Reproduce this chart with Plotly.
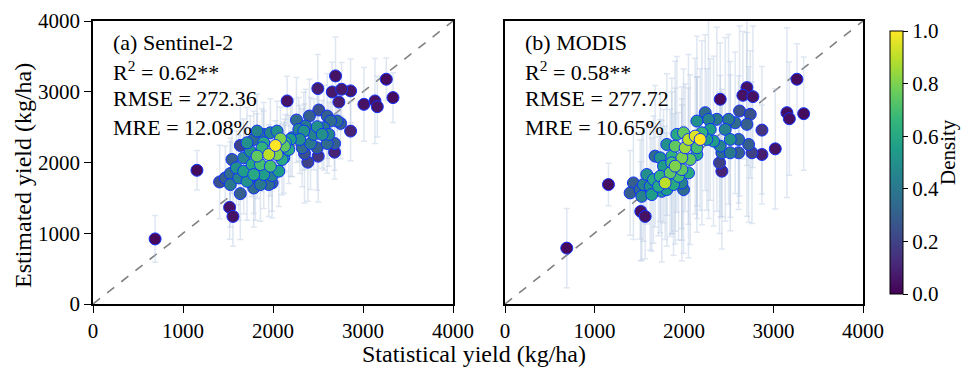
import plotly.graph_objects as go

# ---------------- Panel (a) Sentinel-2 ----------------
a_stat = [690, 1155, 2695, 2498, 2658, 2762, 2862, 2732, 2157, 3010, 3133, 3159, 3259, 3333,
          2862, 2684, 2502, 2387, 2350, 2405, 2509, 2602, 2714, 2751, 2261, 2602, 2684, 2621,
          2491, 2342, 2417, 2298, 2194, 2138, 2127, 2027, 2083, 1953, 2045, 2101, 1823, 1878,
          1897, 1786, 1637, 1748, 1674, 1544, 1593, 1674, 1767, 1860, 1971, 2064, 1786, 1897,
          1990, 1860, 1952, 1990, 1804, 1711, 1619, 1526, 1470, 1407, 1526, 1637, 1786, 1518,
          1555, 2175, 2120, 2213, 2287, 2361, 2565, 2640, 2546, 2454, 2324, 2491, 1823, 1897,
          1711, 1971, 2045]
a_est = [920, 1890, 3224, 3045, 2997, 3035, 3012, 2855, 2870, 2822, 2870, 2789, 3177, 2917,
         2444, 2146, 2090, 2004, 2127, 2657, 2742, 2657, 2586, 2553, 2600, 2269, 2269, 2397,
         2506, 2444, 2269, 2326, 2326, 2279, 2231, 2241, 2335, 2113, 2113, 2042, 2090, 2208,
         2397, 2326, 2241, 2160, 2066, 2042, 1924, 1877, 1971, 1971, 1948, 1877, 1830, 1830,
         1815, 1688, 1688, 1711, 1664, 1735, 1782, 1844, 1782, 1725, 1688, 1560, 1640, 1366,
         1238, 2184, 2066, 2350, 2468, 2515, 2491, 2586, 2397, 2397, 2208, 2208, 2444, 2279,
         2279, 2420, 2444]
a_dens = [0.02, 0.03, 0.05, 0.08, 0.07, 0.07, 0.06, 0.08, 0.05, 0.05, 0.05, 0.05, 0.03, 0.03,
          0.10, 0.10, 0.15, 0.20, 0.25, 0.30, 0.25, 0.30, 0.35, 0.30, 0.35, 0.35, 0.30, 0.45,
          0.50, 0.50, 0.40, 0.50, 0.55, 0.65, 0.75, 1.00, 0.80, 0.90, 0.80, 0.60, 0.75, 0.65,
          0.40, 0.35, 0.20, 0.50, 0.45, 0.30, 0.50, 0.55, 0.60, 0.70, 0.70, 0.55, 0.60, 0.55,
          0.45, 0.40, 0.35, 0.30, 0.35, 0.50, 0.45, 0.35, 0.30, 0.25, 0.40, 0.30, 0.35, 0.05,
          0.05, 0.60, 0.55, 0.45, 0.45, 0.40, 0.40, 0.35, 0.50, 0.45, 0.35, 0.30, 0.45, 0.60,
          0.50, 0.45, 0.50]
a_err = [330, 280, 550, 480, 420, 380, 450, 400, 350, 520, 600, 430, 300, 350,
         420, 380, 650, 550, 700, 520, 380, 600, 450, 500, 600, 420, 380, 450,
         500, 550, 650, 480, 520, 400, 380, 350, 450, 420, 380, 500, 600, 550,
         450, 400, 650, 500, 550, 480, 520, 600, 450, 380, 420, 500, 550, 480,
         600, 520, 450, 400, 480, 550, 600, 500, 450, 520, 600, 650, 550, 450,
         420, 480, 500, 550, 450, 520, 600, 400, 480, 500, 550, 600, 520, 450,
         500, 480, 420]

# ---------------- Panel (b) MODIS ----------------
b_stat = [690, 1156, 3262, 2703, 2658, 2770, 2405, 3150, 3177, 3337, 3020, 2871, 2871, 2423,
          2397, 2621, 2740, 2759, 2722, 2610, 2610, 2703, 2572, 2498, 2461, 2517, 2405, 2330,
          2423, 2517, 2367, 2274, 2144, 2293, 2200, 2125, 2181, 2050, 1995, 1920, 1808, 1901,
          2013, 2144, 2144, 2069, 1976, 1864, 1734, 1677, 1771, 1901, 1976, 2050, 1845, 1734,
          1584, 1659, 1789, 1883, 1976, 1995, 1808, 1715, 1622, 1547, 1510, 1435, 1398, 1528,
          1640, 1752, 1517, 1566, 1864, 1939, 2237, 2255]
b_est = [790, 1688, 3177, 3059, 2950, 2931, 2893, 2704, 2619, 2690, 2193, 2113, 2458, 1877,
         1995, 2728, 2681, 2137, 2255, 2137, 2326, 2539, 2562, 2610, 2468, 2326, 2231, 2302,
         2137, 2137, 2610, 2610, 2586, 2468, 2420, 2373, 2326, 2326, 2420, 2397, 2255, 2231,
         2208, 2208, 2113, 2042, 2066, 2090, 2066, 2090, 1948, 1948, 1900, 1853, 1853, 1806,
         1830, 1759, 1711, 1688, 1711, 1617, 1617, 1664, 1664, 1688, 1617, 1711, 1570, 1522,
         1546, 1593, 1309, 1238, 1995, 1806, 2704, 2326]
b_dens = [0.02, 0.04, 0.03, 0.05, 0.05, 0.05, 0.03, 0.04, 0.04, 0.03, 0.05, 0.08, 0.15, 0.10,
          0.20, 0.25, 0.25, 0.20, 0.30, 0.30, 0.35, 0.30, 0.35, 0.40, 0.45, 0.50, 0.45, 0.55,
          0.35, 0.40, 0.40, 0.45, 0.50, 0.55, 0.65, 0.95, 1.00, 0.90, 0.75, 0.60, 0.50, 0.75,
          0.85, 0.70, 0.60, 0.75, 0.80, 0.65, 0.50, 0.35, 0.55, 0.80, 0.75, 0.60, 0.75, 0.65,
          0.50, 0.60, 0.90, 0.60, 0.45, 0.35, 0.55, 0.60, 0.50, 0.45, 0.35, 0.30, 0.30, 0.45,
          0.55, 0.50, 0.05, 0.05, 0.70, 0.70, 0.35, 0.55]
b_err = [560, 300, 500, 1100, 900, 1000, 800, 1200, 800, 800, 850, 700, 900, 1100,
         1000, 1200, 900, 1000, 1100, 800, 900, 1300, 1000, 1200, 1300, 1100, 1000, 1200,
         900, 1100, 1300, 1400, 1200, 1000, 1300, 1100, 1000, 1200, 900, 1100, 1000, 1200,
         900, 1000, 1100, 1200, 1000, 1100, 900, 1000, 800, 1100, 1000, 1200, 900, 800,
         700, 900, 800, 1000, 1100, 900, 800, 700, 900, 800, 700, 800, 600, 900,
         800, 1000, 700, 600, 1000, 900, 1100, 1000]

ticks = [0, 1000, 2000, 3000, 4000]
tick_labels = ["0", "1000", "2000", "3000", "4000"]
cb_ticks = [0, 0.2, 0.4, 0.6, 0.8, 1.0]
cb_labels = ["0.0", "0.2", "0.4", "0.6", "0.8", "1.0"]

FONT = "Liberation Serif"
ERR_COLOR = "rgba(176,196,222,0.4)"

# plot area (pixels)
L, R, T, B = 93, 100, 21, 63
W, H = 963, 367
PW, PH = W - L - R, H - T - B


def px_x(px):
    return (px - L) / PW


def px_y(py):
    return (H - B - py) / PH


def sorted_by_density(xs, ys, ds, es):
    idx = sorted(range(len(ds)), key=lambda i: ds[i])
    return ([xs[i] for i in idx], [ys[i] for i in idx],
            [ds[i] for i in idx], [es[i] for i in idx])


fig = go.Figure()

for k, (xs, ys, ds, es) in enumerate([(a_stat, a_est, a_dens, a_err),
                                       (b_stat, b_est, b_dens, b_err)]):
    xa = "x" if k == 0 else "x2"
    ya = "y" if k == 0 else "y2"
    fig.add_trace(go.Scatter(x=[0, 4000], y=[0, 4000], mode="lines",
                             line=dict(color="gray", width=1.6, dash="dash"),
                             xaxis=xa, yaxis=ya, showlegend=False, hoverinfo="skip"))
    sx, sy, sd, se = sorted_by_density(xs, ys, ds, es)
    fig.add_trace(go.Scatter(
        x=sx, y=sy, mode="markers", xaxis=xa, yaxis=ya, showlegend=False,
        error_y=dict(type="data", array=se, visible=True, color=ERR_COLOR,
                     thickness=1.5, width=3),
        marker=dict(size=12, color=sd, coloraxis="coloraxis",
                    line=dict(color="#1030ff", width=1)),
    ))

axis_common = dict(range=[0, 4000], showgrid=False, zeroline=False, automargin=False,
                   showline=True, linecolor="black", linewidth=1.5, mirror=True)
tick_common = dict(tickvals=ticks, ticktext=tick_labels, ticks="outside", ticklen=7,
                   tickwidth=1.2, tickcolor="black", tickfont=dict(family=FONT, size=21))

fig.update_layout(
    width=W, height=H,
    margin=dict(l=L, r=R, t=T, b=B, autoexpand=False),
    paper_bgcolor="white", plot_bgcolor="white",
    font=dict(family=FONT, size=21, color="black"),
    xaxis=dict(domain=[0, px_x(453)], anchor="y", **tick_common, **axis_common),
    yaxis=dict(domain=[0, 1], anchor="x", **tick_common, **axis_common),
    xaxis2=dict(domain=[px_x(505), 1], anchor="y2", **tick_common, **axis_common),
    yaxis2=dict(domain=[0, 1], anchor="x2", showticklabels=False, ticks="", **axis_common),
    coloraxis=dict(
        colorscale="Viridis", cmin=0, cmax=1,
        colorbar=dict(
            x=px_x(880), xanchor="left", xref="paper",
            y=0, yanchor="bottom", len=1, lenmode="fraction",
            thickness=13, thicknessmode="pixels",
            outlinewidth=1, outlinecolor="black",
            tickvals=cb_ticks, ticktext=cb_labels,
            ticks="outside", ticklen=5, tickcolor="black",
            tickfont=dict(family=FONT, size=21),
        ),
    ),
)

ann = []
labels = [
    ["(a) Sentinel-2", "R<sup>2</sup> = 0.62**", "RMSE = 272.36", "MRE = 12.08%"],
    ["(b) MODIS", "R<sup>2</sup> = 0.58**", "RMSE = 277.72", "MRE = 10.65%"],
]
line_y = [3700, 3300, 2900, 2500]
for k, lines in enumerate(labels):
    for t, yv in zip(lines, line_y):
        ann.append(dict(text=t, x=200, y=yv, xref="x" if k == 0 else "x2",
                        yref="y" if k == 0 else "y2", xanchor="left", yanchor="middle",
                        showarrow=False, font=dict(family=FONT, size=22)))

ann.append(dict(text="Statistical yield (kg/ha)", x=px_x(474), y=px_y(354),
                xref="paper", yref="paper", xanchor="center", yanchor="middle",
                showarrow=False, font=dict(family=FONT, size=24)))
ann.append(dict(text="Estimated yield (kg/ha)", x=px_x(23), y=px_y(176),
                xref="paper", yref="paper", xanchor="center", yanchor="middle",
                textangle=-90, showarrow=False, font=dict(family=FONT, size=24)))
ann.append(dict(text="Density", x=px_x(948), y=px_y(152),
                xref="paper", yref="paper", xanchor="center", yanchor="middle",
                textangle=-90, showarrow=False, font=dict(family=FONT, size=21)))
fig.update_layout(annotations=ann)

fig.write_html("out.html")
